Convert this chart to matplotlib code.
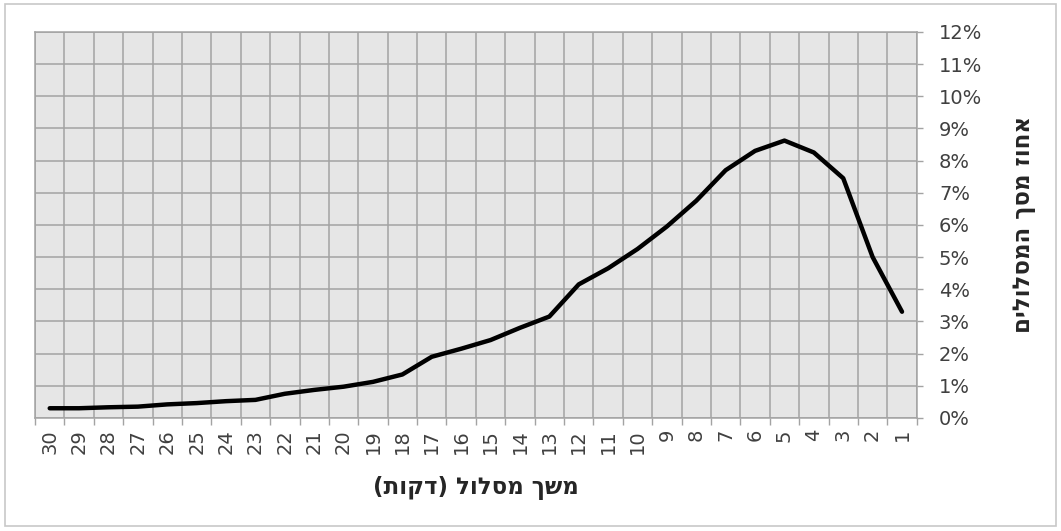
import matplotlib.pyplot as plt
import numpy as np
from matplotlib.ticker import PercentFormatter, FixedLocator
from matplotlib.patches import Rectangle

plt.rcParams["font.family"] = ["DejaVu Sans"]

minutes = [str(m) for m in range(30, 0, -1)]
share = [0.30, 0.30, 0.33, 0.35, 0.42, 0.46, 0.52, 0.56, 0.75, 0.87,
         0.97, 1.12, 1.35, 1.90, 2.15, 2.42, 2.80, 3.15, 4.15, 4.65,
         5.25, 5.95, 6.75, 7.70, 8.30, 8.62, 8.25, 7.45, 5.00, 3.30]
yticks = list(range(0, 13))

# hebrew is drawn left to right by matplotlib, so give it in visual order
xlabel = "משך מסלול (דקות)"
ylabel = "אחוז מסך המסלולים"


def visual(s):
    s = s[::-1]
    return s.translate(str.maketrans("()", ")("))


grid_col = "#a3a3a3"

fig = plt.figure(figsize=(10.61, 5.31), dpi=100)
ax = fig.add_axes([0.033, 0.213, 0.831, 0.727])
ax.set_facecolor("#e6e6e6")

x = np.arange(len(minutes))
ax.plot(x, share, color="black", lw=3.2, solid_joinstyle="round",
        solid_capstyle="round", zorder=3)

ax.set_xlim(-0.5, len(minutes) - 0.5)
ax.set_ylim(0, 12)

ax.set_xticks(x)
ax.set_xticklabels(minutes, rotation=90, fontsize=14, color="#404040")
ax.xaxis.set_minor_locator(FixedLocator(np.arange(-0.5, len(minutes), 1)))
ax.tick_params(axis="x", which="major", length=0, pad=8)
ax.tick_params(axis="x", which="minor", length=5, color=grid_col, width=1)
ax.grid(axis="x", which="minor", color=grid_col, lw=1.1)

ax.yaxis.tick_right()
ax.set_yticks(yticks)
ax.yaxis.set_major_formatter(PercentFormatter(decimals=0))
ax.tick_params(axis="y", length=4, color=grid_col, width=1,
               labelsize=14, labelcolor="#404040", pad=12)
ax.grid(axis="y", which="major", color=grid_col, lw=1.1)
ax.set_axisbelow(True)

for s in ax.spines.values():
    s.set_color(grid_col)
    s.set_linewidth(1.1)

ax.yaxis.set_label_position("right")
ax.set_ylabel(visual(ylabel), rotation=90, fontsize=16.5, fontweight="bold",
              color="#262626", labelpad=22)
ax.set_xlabel(visual(xlabel), fontsize=16.5, fontweight="bold",
              color="#262626", labelpad=16)

fig.patches.append(Rectangle((0.005, 0.01), 0.99, 0.982, transform=fig.transFigure,
                             fill=False, edgecolor="#c8c8c8", lw=1.2))

fig.savefig("out.png", dpi=100)
